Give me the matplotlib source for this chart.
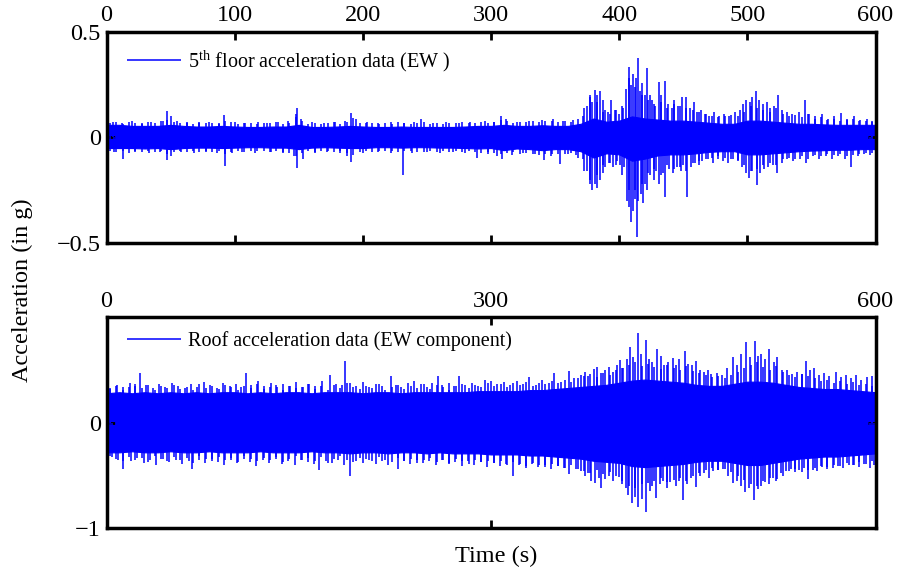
import matplotlib
matplotlib.use('Agg')
import matplotlib.pyplot as plt
import numpy as np

plt.rcParams['font.family'] = 'Liberation Serif'
plt.rcParams['mathtext.fontset'] = 'custom'
plt.rcParams['mathtext.rm'] = 'Liberation Serif'
plt.rcParams['mathtext.it'] = 'Liberation Serif:italic'

# time grid for the dense part of the record (s)
t_env = np.arange(0, 601, 10)
# time grid for the fringe of small peaks along the band edge (s)
t_fringe = np.arange(2.5, 600, 5)

# 5th floor: dense band (g)
floor_hi = [0.060, 0.060, 0.055, 0.055, 0.055, 0.060, 0.055, 0.052, 0.052, 0.055,
            0.052, 0.050, 0.050, 0.052, 0.052, 0.060, 0.050, 0.050, 0.052, 0.055,
            0.052, 0.050, 0.050, 0.052, 0.050, 0.050, 0.050, 0.050, 0.052, 0.055,
            0.055, 0.060, 0.055, 0.055, 0.058, 0.055, 0.055, 0.065, 0.090, 0.075,
            0.080, 0.100, 0.090, 0.085, 0.080, 0.080, 0.075, 0.070, 0.065, 0.065,
            0.080, 0.080, 0.075, 0.070, 0.065, 0.065, 0.062, 0.060, 0.060, 0.060,
            0.060]
floor_lo = [-0.050, -0.050, -0.050, -0.052, -0.050, -0.055, -0.050, -0.048, -0.048, -0.050,
            -0.048, -0.046, -0.046, -0.048, -0.048, -0.055, -0.048, -0.046, -0.048, -0.050,
            -0.050, -0.046, -0.046, -0.048, -0.046, -0.046, -0.048, -0.048, -0.050, -0.052,
            -0.050, -0.060, -0.052, -0.055, -0.060, -0.055, -0.055, -0.065, -0.095, -0.075,
            -0.080, -0.110, -0.100, -0.085, -0.080, -0.080, -0.075, -0.068, -0.065, -0.065,
            -0.080, -0.080, -0.075, -0.070, -0.065, -0.062, -0.060, -0.058, -0.058, -0.055,
            -0.055]
floor_fr_up = [0.068, 0.072, 0.066, 0.075, 0.070, 0.064, 0.073, 0.069, 0.078, 0.085,
               0.074, 0.067, 0.071, 0.065, 0.072, 0.068, 0.070, 0.066, 0.080, 0.072,
               0.066, 0.071, 0.068, 0.064, 0.070, 0.067, 0.073, 0.065, 0.069, 0.095,
               0.078, 0.066, 0.070, 0.064, 0.068, 0.072, 0.066, 0.074, 0.092, 0.070,
               0.067, 0.071, 0.065, 0.069, 0.066, 0.072, 0.068, 0.064, 0.070, 0.073,
               0.066, 0.069, 0.065, 0.071, 0.067, 0.072, 0.068, 0.070, 0.074, 0.071,
               0.073, 0.082, 0.076, 0.070, 0.074, 0.072, 0.078, 0.075, 0.080, 0.076,
               0.074, 0.078, 0.072, 0.090, 0.140, 0.200, 0.170, 0.120, 0.110, 0.130,
               0.150, 0.280, 0.240, 0.200, 0.180, 0.160, 0.200, 0.140, 0.160, 0.150,
               0.140, 0.130, 0.120, 0.110, 0.100, 0.095, 0.100, 0.105, 0.100, 0.120,
               0.150, 0.140, 0.130, 0.120, 0.140, 0.110, 0.100, 0.105, 0.095, 0.110,
               0.090, 0.095, 0.085, 0.090, 0.080, 0.085, 0.090, 0.080, 0.078, 0.075]
floor_fr_dn = [-0.062, -0.070, -0.066, -0.072, -0.064, -0.068, -0.063, -0.070, -0.066, -0.080,
               -0.068, -0.064, -0.070, -0.062, -0.067, -0.063, -0.069, -0.065, -0.078, -0.068,
               -0.064, -0.068, -0.062, -0.066, -0.063, -0.069, -0.064, -0.067, -0.072, -0.090,
               -0.075, -0.064, -0.068, -0.062, -0.066, -0.070, -0.064, -0.072, -0.085, -0.068,
               -0.064, -0.068, -0.063, -0.066, -0.062, -0.070, -0.065, -0.063, -0.068, -0.070,
               -0.064, -0.067, -0.063, -0.069, -0.065, -0.070, -0.066, -0.068, -0.072, -0.070,
               -0.072, -0.078, -0.074, -0.070, -0.076, -0.072, -0.080, -0.085, -0.078, -0.080,
               -0.076, -0.080, -0.075, -0.095, -0.160, -0.220, -0.180, -0.130, -0.120, -0.130,
               -0.180, -0.330, -0.250, -0.220, -0.170, -0.150, -0.180, -0.130, -0.150, -0.140,
               -0.160, -0.120, -0.110, -0.100, -0.095, -0.090, -0.095, -0.100, -0.105, -0.130,
               -0.160, -0.150, -0.130, -0.120, -0.130, -0.100, -0.095, -0.100, -0.090, -0.100,
               -0.085, -0.090, -0.080, -0.085, -0.080, -0.090, -0.085, -0.080, -0.075, -0.072]

# 5th floor: individual peaks (time s, value g)
floor_pk_t = [5, 12, 20, 28, 35, 44, 47, 50, 55, 63, 72, 80, 88, 92, 100, 108, 118, 125,
              134, 142, 148, 149, 152, 160, 170, 178, 186, 191, 195, 203, 212, 222, 232,
              240, 245, 255, 265, 275, 284, 295, 302, 308, 312, 320, 330, 340, 348, 356, 364,
              6, 12.5, 22, 33, 42, 47, 50, 58, 68, 78, 86, 92.4, 98, 106, 116, 128, 138, 146,
              149, 153, 163, 172, 182, 188, 191, 200, 212, 222, 231, 238, 250, 260, 270, 280,
              289, 298, 305, 308.6, 316, 325, 334, 341, 347, 353.7, 360, 366,
              372, 375, 377, 379, 381, 383, 385, 387, 389, 391, 394, 397, 400, 403, 405,
              407.5, 409, 411, 413, 414.5, 416, 418, 420, 421.6, 424, 426, 428, 431, 433,
              436, 438, 441, 443, 446, 449, 452, 455, 458, 461, 464, 467, 470, 474, 478,
              482, 486, 490, 494, 497, 499, 502, 504, 506.6, 509, 512, 515, 518, 521,
              523.6, 527, 531, 535, 540, 545, 548, 553, 558, 563, 568, 573, 578, 583,
              588, 593, 597,
              372, 375, 377, 379, 381, 383, 385, 387, 389, 392, 395, 398, 401, 404, 406,
              408, 409, 411, 412, 413.8, 415, 417, 418.5, 420, 422, 424, 427, 429, 431,
              434, 436, 439, 442, 445, 448, 450, 452.8, 456, 459, 462, 465, 469, 473, 477,
              481, 485, 489, 493, 496, 499, 501, 504, 507.5, 510, 513, 516, 520, 523, 527,
              531, 536, 541, 546, 551, 556, 561, 566, 571, 576, 581, 586, 591, 596]
floor_pk_v = [0.075, 0.07, 0.08, 0.07, 0.075, 0.08, 0.126, 0.10, 0.08, 0.075, 0.07, 0.075,
              0.07, 0.107, 0.075, 0.07, 0.075, 0.07, 0.075, 0.08, 0.11, 0.14, 0.09, 0.075,
              0.07, 0.075, 0.08, 0.118, 0.09, 0.075, 0.07, 0.075, 0.07, 0.075, 0.09, 0.07,
              0.075, 0.07, 0.075, 0.08, 0.075, 0.10, 0.09, 0.075, 0.08, 0.085, 0.09, 0.08,
              0.085,
              -0.07, -0.10, -0.07, -0.075, -0.07, -0.107, -0.09, -0.07, -0.075, -0.07,
              -0.075, -0.134, -0.075, -0.07, -0.075, -0.07, -0.075, -0.09, -0.143, -0.10,
              -0.075, -0.07, -0.075, -0.09, -0.116, -0.075, -0.07, -0.075, -0.18, -0.075,
              -0.07, -0.075, -0.07, -0.075, -0.096, -0.08, -0.09, -0.10, -0.085, -0.075,
              -0.08, -0.107, -0.09, -0.126, -0.08, -0.085,
              0.10, 0.15, 0.19, 0.17, 0.225, 0.20, 0.22, 0.18, 0.13, 0.12, 0.178, 0.13,
              0.11, 0.14, 0.23, 0.335, 0.25, 0.30, 0.28, 0.376, 0.22, 0.26, 0.20, 0.33,
              0.20, 0.18, 0.15, 0.264, 0.17, 0.27, 0.16, 0.14, 0.18, 0.15, 0.19, 0.19,
              0.14, 0.17, 0.12, 0.13, 0.11, 0.10, 0.12, 0.10, 0.11, 0.10, 0.12, 0.13,
              0.16, 0.18, 0.17, 0.19, 0.22, 0.18, 0.16, 0.17, 0.14, 0.15, 0.20, 0.13,
              0.12, 0.11, 0.12, 0.18, 0.11, 0.10, 0.11, 0.09, 0.10, 0.117, 0.09, 0.10,
              0.085, 0.09, 0.08,
              -0.10, -0.16, -0.20, -0.249, -0.22, -0.24, -0.20, -0.17, -0.14, -0.12,
              -0.14, -0.11, -0.13, -0.14, -0.30, -0.25, -0.40, -0.35, -0.29, -0.47,
              -0.30, -0.27, -0.31, -0.22, -0.25, -0.18, -0.20, -0.16, -0.22, -0.17,
              -0.28, -0.15, -0.17, -0.14, -0.16, -0.13, -0.28, -0.14, -0.12, -0.13,
              -0.11, -0.10, -0.12, -0.10, -0.11, -0.12, -0.10, -0.11, -0.14, -0.17,
              -0.19, -0.16, -0.225, -0.17, -0.15, -0.14, -0.13, -0.17, -0.12, -0.10,
              -0.11, -0.10, -0.12, -0.09, -0.10, -0.09, -0.10, -0.09, -0.10, -0.14,
              -0.09, -0.08, -0.085]

# roof: dense band (g)
roof_hi = [0.28, 0.29, 0.28, 0.29, 0.28, 0.29, 0.28, 0.29, 0.28, 0.29,
           0.29, 0.28, 0.29, 0.28, 0.29, 0.29, 0.28, 0.29, 0.29, 0.29,
           0.28, 0.29, 0.29, 0.28, 0.29, 0.29, 0.29, 0.29, 0.29, 0.30,
           0.30, 0.30, 0.30, 0.31, 0.31, 0.32, 0.33, 0.34, 0.35, 0.36,
           0.38, 0.40, 0.41, 0.40, 0.39, 0.38, 0.36, 0.35, 0.35, 0.37,
           0.39, 0.39, 0.38, 0.36, 0.34, 0.33, 0.32, 0.32, 0.31, 0.30,
           0.29]
roof_lo = [-0.28, -0.28, -0.27, -0.28, -0.28, -0.27, -0.28, -0.28, -0.27, -0.28,
           -0.28, -0.28, -0.27, -0.28, -0.28, -0.28, -0.27, -0.28, -0.28, -0.29,
           -0.28, -0.28, -0.29, -0.28, -0.28, -0.29, -0.28, -0.29, -0.29, -0.29,
           -0.30, -0.30, -0.30, -0.31, -0.31, -0.32, -0.33, -0.34, -0.36, -0.37,
           -0.38, -0.41, -0.42, -0.41, -0.40, -0.39, -0.37, -0.36, -0.36, -0.38,
           -0.40, -0.40, -0.38, -0.36, -0.34, -0.33, -0.32, -0.32, -0.31, -0.30,
           -0.29]
roof_fr_up = [0.32, 0.35, 0.31, 0.34, 0.37, 0.33, 0.36, 0.31, 0.35, 0.33,
              0.36, 0.32, 0.34, 0.31, 0.37, 0.33, 0.35, 0.32, 0.36, 0.34,
              0.31, 0.35, 0.33, 0.37, 0.32, 0.34, 0.36, 0.31, 0.35, 0.33,
              0.34, 0.37, 0.32, 0.35, 0.31, 0.36, 0.33, 0.38, 0.34, 0.32,
              0.35, 0.33, 0.37, 0.31, 0.34, 0.36, 0.32, 0.35, 0.33, 0.37,
              0.32, 0.36, 0.34, 0.31, 0.35, 0.37, 0.33, 0.36, 0.34, 0.38,
              0.35, 0.37, 0.34, 0.38, 0.36, 0.39, 0.35, 0.38, 0.37, 0.40,
              0.38, 0.41, 0.39, 0.42, 0.44, 0.46, 0.43, 0.47, 0.45, 0.50,
              0.52, 0.55, 0.58, 0.54, 0.56, 0.53, 0.51, 0.55, 0.52, 0.50,
              0.54, 0.49, 0.47, 0.45, 0.43, 0.44, 0.42, 0.45, 0.48, 0.52,
              0.55, 0.58, 0.53, 0.50, 0.54, 0.48, 0.45, 0.43, 0.46, 0.44,
              0.42, 0.40, 0.41, 0.38, 0.40, 0.37, 0.39, 0.36, 0.37, 0.35]
roof_fr_dn = [-0.31, -0.34, -0.36, -0.32, -0.35, -0.33, -0.37, -0.31, -0.34, -0.36,
              -0.32, -0.35, -0.33, -0.38, -0.31, -0.34, -0.36, -0.32, -0.35, -0.33,
              -0.37, -0.31, -0.34, -0.36, -0.33, -0.35, -0.32, -0.37, -0.34, -0.31,
              -0.35, -0.33, -0.36, -0.32, -0.38, -0.34, -0.31, -0.35, -0.37, -0.33,
              -0.34, -0.36, -0.32, -0.35, -0.37, -0.33, -0.36, -0.34, -0.38, -0.35,
              -0.33, -0.37, -0.35, -0.38, -0.34, -0.36, -0.39, -0.35, -0.37, -0.36,
              -0.38, -0.36, -0.40, -0.37, -0.39, -0.41, -0.38, -0.40, -0.42, -0.39,
              -0.41, -0.43, -0.40, -0.44, -0.46, -0.48, -0.45, -0.49, -0.47, -0.50,
              -0.55, -0.60, -0.62, -0.58, -0.57, -0.55, -0.52, -0.56, -0.54, -0.52,
              -0.55, -0.50, -0.48, -0.45, -0.43, -0.45, -0.44, -0.47, -0.50, -0.54,
              -0.58, -0.60, -0.55, -0.52, -0.55, -0.50, -0.46, -0.44, -0.47, -0.45,
              -0.43, -0.41, -0.42, -0.40, -0.41, -0.38, -0.40, -0.37, -0.39, -0.36]

# roof: individual peaks (time s, value g)
roof_pk_t = [3, 8, 13, 18, 22, 26.5, 31, 36, 41, 46, 51, 56, 61, 66, 71, 76, 81, 86, 91,
             96, 101, 105, 109, 113, 118, 123, 128, 133, 138, 143, 148, 153, 158, 163,
             168, 174, 179, 184, 186, 190, 195, 200, 205, 210, 215, 222, 226, 230, 235,
             240, 245, 250, 254, 259, 262, 267, 271, 275, 280, 285, 290, 295, 300, 305,
             310, 315, 320, 325, 330, 335, 340, 345, 349, 355, 361, 365,
             4, 9, 13, 19, 24, 29, 34, 39, 44, 49, 54, 59, 64, 67, 72, 77, 82, 87, 92,
             97, 102, 107, 112, 117, 122, 127, 132, 137, 142, 147, 152, 157, 162, 166,
             171, 176, 181, 185, 190, 195, 200, 205, 210, 215, 220, 227.5, 232, 237,
             242, 247, 252, 257, 262, 267, 272, 277, 282, 287, 292, 297, 302, 307, 312,
             317, 322, 327, 332, 337, 342, 347, 352, 357, 361, 366,
             370, 373, 376, 380, 383, 386, 389, 392, 395, 398, 400.7, 403, 406, 408.6,
             411, 414.5, 417, 420.8, 423, 426, 429.5, 433, 435, 438, 442, 444, 447, 451,
             454, 457, 460, 463, 466, 469, 472, 476, 480, 484, 489, 492, 495, 499, 502,
             506, 508, 511, 514, 517, 520.5, 523, 527, 531, 535, 539, 543, 546, 549, 552,
             556, 560, 564, 569, 573, 577, 581, 585, 589, 593, 597,
             370, 373, 376, 378, 381.5, 384, 386, 389, 392, 395, 399.6, 402, 405, 407,
             410, 412, 415, 418, 421, 424, 426, 429, 432, 434, 437, 440, 444, 447, 450,
             453, 456, 460, 463, 466, 470, 473, 477, 481, 485, 488.6, 492, 495, 498,
             501, 505, 508, 511, 514, 517, 520, 523, 526, 530, 534, 537, 540, 544,
             547.6, 551, 554, 558, 562, 567, 571, 575, 579, 583, 587, 591, 596, 599]
roof_pk_v = [0.33, 0.36, 0.34, 0.38, 0.35, 0.47, 0.36, 0.33, 0.37, 0.34, 0.38, 0.35, 0.33,
             0.37, 0.34, 0.39, 0.36, 0.33, 0.38, 0.35, 0.37, 0.34, 0.475, 0.36, 0.40,
             0.35, 0.38, 0.34, 0.37, 0.35, 0.39, 0.34, 0.37, 0.35, 0.40, 0.45, 0.37,
             0.36, 0.59, 0.38, 0.35, 0.39, 0.34, 0.37, 0.35, 0.44, 0.36, 0.34, 0.38,
             0.40, 0.37, 0.34, 0.38, 0.44, 0.36, 0.38, 0.35, 0.44, 0.36, 0.38, 0.35,
             0.41, 0.40, 0.37, 0.39, 0.36, 0.40, 0.37, 0.43, 0.36, 0.41, 0.38, 0.47,
             0.39, 0.49, 0.42,
             -0.32, -0.35, -0.44, -0.36, -0.33, -0.38, -0.35, -0.40, -0.34, -0.37,
             -0.35, -0.39, -0.36, -0.44, -0.35, -0.38, -0.34, -0.37, -0.40, -0.35,
             -0.38, -0.34, -0.37, -0.41, -0.35, -0.38, -0.34, -0.39, -0.36, -0.40,
             -0.35, -0.37, -0.39, -0.45, -0.36, -0.38, -0.35, -0.40, -0.505, -0.36,
             -0.38, -0.35, -0.39, -0.36, -0.40, -0.44, -0.36, -0.39, -0.35, -0.38,
             -0.36, -0.40, -0.35, -0.39, -0.37, -0.41, -0.36, -0.40, -0.37, -0.42,
             -0.38, -0.41, -0.39, -0.50, -0.40, -0.43, -0.39, -0.42, -0.40, -0.44,
             -0.41, -0.43, -0.49, -0.44,
             0.45, 0.48, 0.44, 0.51, 0.53, 0.47, 0.50, 0.53, 0.48, 0.55, 0.596, 0.52,
             0.60, 0.72, 0.62, 0.85, 0.65, 0.786, 0.60, 0.58, 0.70, 0.63, 0.55, 0.58,
             0.61, 0.55, 0.60, 0.68, 0.56, 0.55, 0.59, 0.50, 0.48, 0.50, 0.46, 0.47,
             0.45, 0.52, 0.62, 0.55, 0.65, 0.77, 0.62, 0.78, 0.63, 0.65, 0.60, 0.70,
             0.58, 0.62, 0.50, 0.50, 0.46, 0.48, 0.46, 0.59, 0.50, 0.52, 0.45, 0.47,
             0.44, 0.48, 0.43, 0.45, 0.42, 0.45, 0.41, 0.43, 0.44,
             -0.46, -0.50, -0.48, -0.55, -0.57, -0.52, -0.62, -0.53, -0.50, -0.55,
             -0.51, -0.58, -0.62, -0.68, -0.76, -0.70, -0.80, -0.72, -0.845, -0.65,
             -0.60, -0.715, -0.58, -0.55, -0.62, -0.56, -0.60, -0.55, -0.735, -0.58,
             -0.52, -0.61, -0.50, -0.48, -0.52, -0.46, -0.45, -0.44, -0.50, -0.57,
             -0.55, -0.60, -0.66, -0.62, -0.735, -0.63, -0.60, -0.56, -0.58, -0.52,
             -0.535, -0.48, -0.46, -0.44, -0.47, -0.45, -0.43, -0.53, -0.45, -0.46,
             -0.42, -0.44, -0.43, -0.41, -0.43, -0.40, -0.40, -0.42, -0.39, -0.43,
             -0.40]

floor_label = r'$5^{\mathrm{th}}$ floor acceleration data (EW )'
roof_label = 'Roof acceleration data (EW component)'


def draw_panel(ax, hi, lo, fr_up, fr_dn, pk_t, pk_v, label, xticks, ylim, yticks,
               yticklabels, leg_y):
    ax.fill_between(t_env, lo, hi, color='blue', lw=0.8)
    ax.vlines(t_fringe, fr_dn, fr_up, color='blue', lw=1.1)
    ax.vlines(pk_t, 0, pk_v, color='blue', lw=1.1, label=label)
    ax.set_xlim(0, 600)
    ax.set_ylim(*ylim)
    ax.set_xticks(xticks)
    ax.set_yticks(yticks)
    ax.set_yticklabels(yticklabels)
    ax.tick_params(direction='in', top=True, right=True, labeltop=True, labelbottom=False,
                   length=6, width=2, labelsize=17.5, pad=4)
    for s in ax.spines.values():
        s.set_linewidth(2.5)
    ax.legend(loc='upper left', bbox_to_anchor=(0.027, leg_y), frameon=False, fontsize=14.5,
              handlelength=2.65, handletextpad=0.35, borderpad=0, borderaxespad=0)


fig = plt.figure(figsize=(8.98, 5.72), dpi=100)
ax1 = fig.add_axes([106.5 / 898, 1 - 243 / 572, 769 / 898, 211 / 572])
ax2 = fig.add_axes([106.5 / 898, 1 - 528.3 / 572, 769 / 898, 211 / 572])

draw_panel(ax1, floor_hi, floor_lo, floor_fr_up, floor_fr_dn, floor_pk_t, floor_pk_v,
           floor_label, [0, 100, 200, 300, 400, 500, 600], (-0.5, 0.5), [-0.5, 0, 0.5],
           ['\u22120.5', '0', '0.5'], 0.92)
draw_panel(ax2, roof_hi, roof_lo, roof_fr_up, roof_fr_dn, roof_pk_t, roof_pk_v,
           roof_label, [0, 300, 600], (-1, 1), [-1, 0], ['\u22121', '0'], 0.935)

fig.text(22 / 898, 1 - 290 / 572, 'Acceleration (in g)', rotation=90, ha='center',
         va='center', fontsize=17.5)
fig.text(496 / 898, 1 - 556 / 572, 'Time (s)', ha='center', va='center', fontsize=17.5)

fig.savefig('out.png', dpi=100)
